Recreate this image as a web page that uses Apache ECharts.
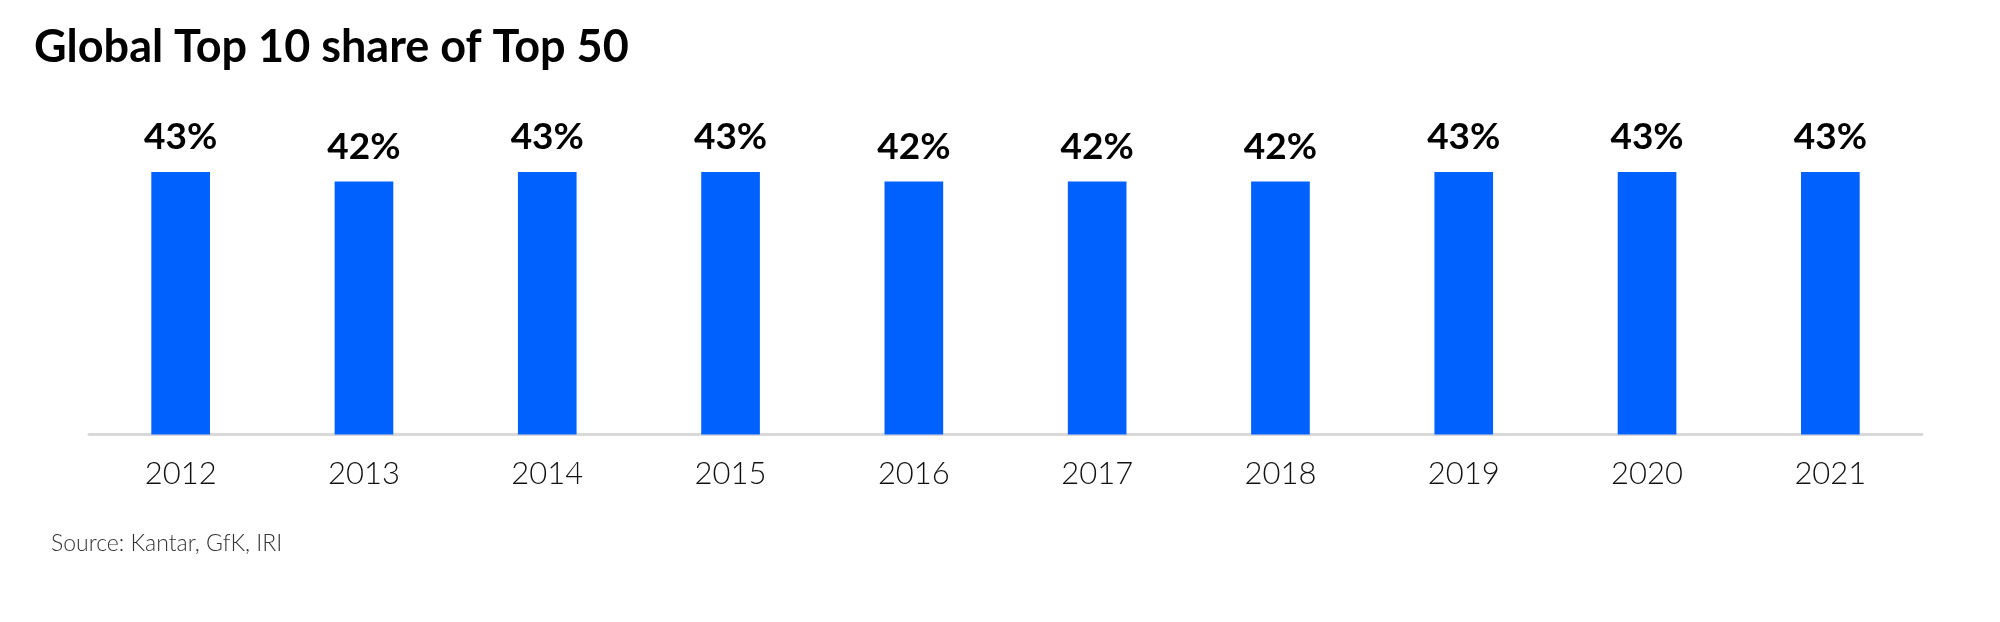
<!DOCTYPE html>
<html>
<head>
<meta charset="utf-8">
<script src="https://cdn.jsdelivr.net/npm/echarts@6/dist/echarts.min.js"></script>
<style>
html,body{margin:0;padding:0;background:#fff;}
#chart{width:2000px;height:622px;}
</style>
</head>
<body>
<div id="chart"></div>
<script>
const titleText = 'Global Top 10 share of Top 50';
const sourceText = 'Source: Kantar, GfK, IRI';
const years = ['2012','2013','2014','2015','2016','2017','2018','2019','2020','2021'];
const shareValues = [43.4, 41.8, 43.4, 43.4, 41.8, 41.8, 41.8, 43.4, 43.4, 43.4];

const chart = echarts.init(document.getElementById('chart'), null, {renderer:'canvas'});
chart.setOption({
  animation: false,
  backgroundColor: '#ffffff',
  title: {
    text: titleText,
    left: 29, top: 20,
    textStyle: {fontFamily: 'Lato', fontWeight: 'bold', fontSize: 45, color: '#000000'}
  },
  graphic: [{
    type: 'text', left: 51, top: 532,
    style: {text: sourceText, fontFamily: 'Lato', fontWeight: 300, fontSize: 23, fill: '#333333'}
  }],
  grid: {left: 89, right: 78, top: 71.5, bottom: 622 - 434.5, containLabel: false},
  xAxis: {
    type: 'category',
    data: years,
    axisLine: {show: true, lineStyle: {color: '#d9d9d9', width: 3}},
    axisTick: {show: false},
    axisLabel: {fontFamily: 'Lato', fontWeight: 300, fontSize: 31, color: '#111111', margin: 24}
  },
  yAxis: {
    type: 'value', min: 0, max: 60,
    show: false,
    splitLine: {show: false}
  },
  series: [{
    type: 'bar',
    data: shareValues,
    barWidth: '32%',
    itemStyle: {color: '#0061ff'},
    label: {
      show: true, position: 'top', distance: 16,
      fontFamily: 'Lato', fontWeight: 'bold', fontSize: 37, color: '#000000',
      formatter: p => Math.round(p.value) + '%'
    }
  }]
});
</script>
</body>
</html>
